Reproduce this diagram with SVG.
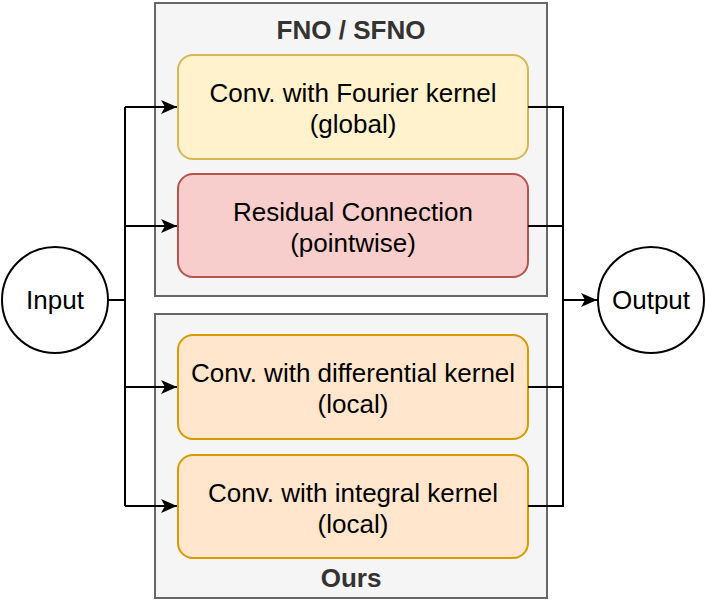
<svg xmlns="http://www.w3.org/2000/svg" width="706" height="606" viewBox="0 0 706 606">
<defs>
<marker id="arr" markerWidth="16" markerHeight="14" refX="16" refY="7" orient="auto" markerUnits="userSpaceOnUse">
<path d="M0,0 L16,7 L0,14 L4,7 Z" fill="#000"/>
</marker>
<style>
.cont{fill:#f5f5f5;stroke:#666;stroke-width:2}
.title{font-family:"Liberation Sans",Arial,sans-serif;font-size:26px;font-weight:bold;fill:#333;text-anchor:middle}
.lbl{font-family:"Liberation Sans",Arial,sans-serif;font-size:26px;fill:#000;text-anchor:middle}
.yel{fill:#fff2cc;stroke:#d6b656;stroke-width:2}
.red{fill:#f8cecc;stroke:#b85450;stroke-width:2}
.org{fill:#ffe6cc;stroke:#d79b00;stroke-width:2}
.circ{fill:#fff;stroke:#000;stroke-width:2}
.conn{fill:none;stroke:#000;stroke-width:2}
</style>
</defs>
<g id="fno">
<rect class="cont" x="155" y="3" width="392" height="293"/>
<text class="title" x="351" y="39">FNO / SFNO</text>
</g>
<g id="ours">
<rect class="cont" x="155" y="314" width="392" height="284"/>
<text class="title" x="351" y="587">Ours</text>
</g>
<g id="fourier">
<rect class="yel" x="178" y="55" width="350" height="104" rx="15"/>
<text class="lbl" x="353" y="102">Conv. with Fourier kernel</text>
<text class="lbl" x="353" y="133">(global)</text>
</g>
<g id="residual">
<rect class="red" x="178" y="174" width="350" height="103" rx="15"/>
<text class="lbl" x="353" y="221">Residual Connection</text>
<text class="lbl" x="353" y="252">(pointwise)</text>
</g>
<g id="differential">
<rect class="org" x="178" y="335" width="350" height="104" rx="15"/>
<text class="lbl" x="353" y="382">Conv. with differential kernel</text>
<text class="lbl" x="353" y="413">(local)</text>
</g>
<g id="integral">
<rect class="org" x="178" y="455" width="350" height="103" rx="15"/>
<text class="lbl" x="353" y="502">Conv. with integral kernel</text>
<text class="lbl" x="353" y="533">(local)</text>
</g>
<g id="input">
<circle class="circ" cx="55" cy="300" r="53"/>
<text class="lbl" x="55" y="309">Input</text>
</g>
<g id="output">
<circle class="circ" cx="651" cy="300" r="53"/>
<text class="lbl" x="651" y="309">Output</text>
</g>
<g id="connectors">
<path class="conn" d="M108,300 H125 M125,107 V506"/>
<path class="conn" d="M125,107 H177" marker-end="url(#arr)"/>
<path class="conn" d="M125,226 H177" marker-end="url(#arr)"/>
<path class="conn" d="M125,387 H177" marker-end="url(#arr)"/>
<path class="conn" d="M125,506 H177" marker-end="url(#arr)"/>
<path class="conn" d="M528,107 H563 V506 H528 M528,226 H563 M528,387 H563"/>
<path class="conn" d="M563,300 H597" marker-end="url(#arr)"/>
</g>
</svg>
